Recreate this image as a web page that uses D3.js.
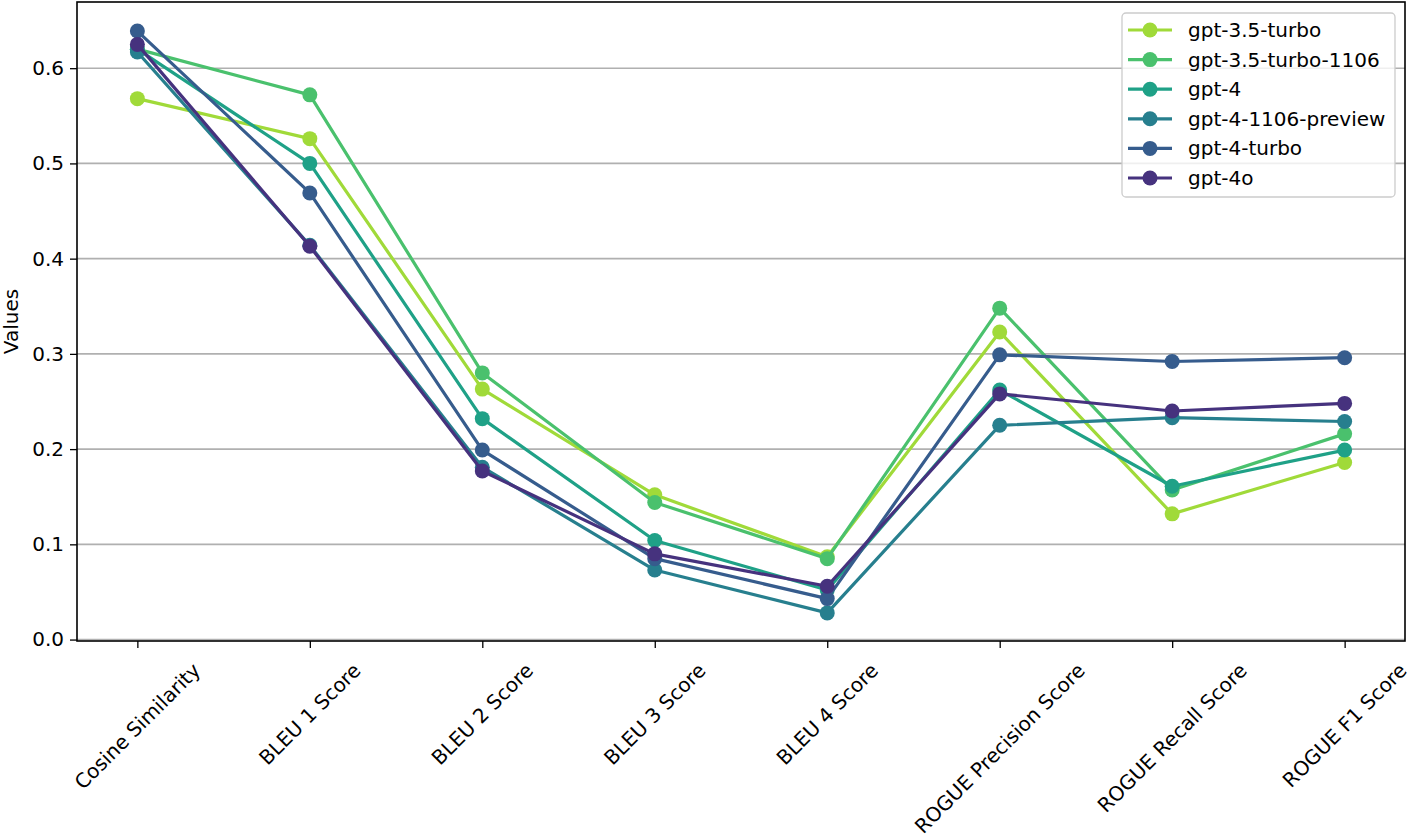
<!DOCTYPE html>
<html>
<head>
<meta charset="utf-8">
<script src="https://cdn.jsdelivr.net/npm/d3@7"></script>
<style>
  body { margin: 0; background: #fff; }
  text { font-family: "DejaVu Sans", sans-serif; }
</style>
</head>
<body>
<div id="chart"></div>
<script>
// metrics on the x axis
const metrics = [
  "Cosine Similarity", "BLEU 1 Score", "BLEU 2 Score", "BLEU 3 Score",
  "BLEU 4 Score", "ROGUE Precision Score", "ROGUE Recall Score", "ROGUE F1 Score"
];

const models = ["gpt-3.5-turbo", "gpt-3.5-turbo-1106", "gpt-4", "gpt-4-1106-preview", "gpt-4-turbo", "gpt-4o"];
const colors = ["#a0da39", "#4ac16d", "#1fa187", "#277f8e", "#365c8d", "#46327e"];

// values per model
const gpt35turbo     = [0.568, 0.526, 0.263, 0.152, 0.087, 0.323, 0.132, 0.186];
const gpt35turbo1106 = [0.620, 0.572, 0.280, 0.144, 0.085, 0.348, 0.157, 0.216];
const gpt4           = [0.620, 0.500, 0.232, 0.104, 0.052, 0.262, 0.161, 0.199];
const gpt41106       = [0.617, 0.414, 0.181, 0.073, 0.028, 0.225, 0.233, 0.229];
const gpt4turbo      = [0.639, 0.469, 0.199, 0.085, 0.043, 0.299, 0.292, 0.296];
const gpt4o          = [0.625, 0.413, 0.177, 0.090, 0.056, 0.258, 0.240, 0.248];
const seriesValues = [gpt35turbo, gpt35turbo1106, gpt4, gpt41106, gpt4turbo, gpt4o];

const yTicks = [0.0, 0.1, 0.2, 0.3, 0.4, 0.5, 0.6];

const W = 1417, H = 839;
const margin = { top: 2, right: 12, bottom: 198, left: 77 };
const width = W - margin.left - margin.right;
const height = H - margin.top - margin.bottom;
const fs = 20;

const svg = d3.select("#chart").append("svg")
  .attr("width", W).attr("height", H);

const g = svg.append("g").attr("transform", `translate(${margin.left},${margin.top})`);

const x = d3.scaleLinear().domain([-0.35, metrics.length - 1 + 0.35]).range([0, width]);
const y = d3.scaleLinear().domain([-0.0015, 0.6695]).range([height, 0]);

// grid
g.append("g").selectAll("line").data(yTicks).enter().append("line")
  .attr("x1", 0).attr("x2", width)
  .attr("y1", d => y(d)).attr("y2", d => y(d))
  .attr("stroke", "#b0b0b0").attr("stroke-width", 1.6);

// lines + markers
const line = d3.line().x((d, i) => x(i)).y(d => y(d));
seriesValues.forEach((vals, k) => {
  const s = g.append("g");
  s.append("path").datum(vals).attr("d", line)
    .attr("fill", "none").attr("stroke", colors[k]).attr("stroke-width", 3.2)
    .attr("stroke-linejoin", "round");
  s.selectAll("circle").data(vals).enter().append("circle")
    .attr("cx", (d, i) => x(i)).attr("cy", d => y(d)).attr("r", 7.5)
    .attr("fill", colors[k]);
});

// y axis
const yAxis = g.append("g")
  .call(d3.axisLeft(y).tickValues(yTicks).tickFormat(d3.format(".1f")).tickSize(7).tickPadding(6));
yAxis.select(".domain").remove();
yAxis.selectAll("line").attr("stroke", "#000").attr("stroke-width", 1.3);
yAxis.selectAll("text").attr("font-size", fs).attr("fill", "#000")
  .style("font-family", "DejaVu Sans");

// x axis
const xAxis = g.append("g").attr("transform", `translate(0,${height})`)
  .call(d3.axisBottom(x).tickValues(d3.range(metrics.length)).tickFormat("").tickSize(7));
xAxis.select(".domain").remove();
xAxis.selectAll("line").attr("stroke", "#000").attr("stroke-width", 1.3);

// rotated labels, bbox centred under tick like matplotlib
const labels = g.append("g");
metrics.forEach((m, i) => {
  const t = labels.append("text").text(m)
    .attr("font-size", fs).attr("fill", "#000")
    .attr("text-anchor", "middle").attr("dominant-baseline", "central");
  const w = t.node().getComputedTextLength();
  const hgt = fs * 1.1;
  const bh = (w + hgt) / Math.SQRT2;
  const cx = x(i), cy = height + 18 + bh / 2;
  t.attr("x", cx).attr("y", cy).attr("transform", `rotate(-45,${cx},${cy})`);
});

// frame
g.append("rect").attr("x", 0).attr("y", 0).attr("width", width).attr("height", height)
  .attr("fill", "none").attr("stroke", "#000").attr("stroke-width", 1.6);

// y label
svg.append("text").text("Values")
  .attr("transform", `translate(11,${margin.top + height / 2}) rotate(-90)`)
  .attr("text-anchor", "middle").attr("dominant-baseline", "central")
  .attr("font-size", fs).attr("fill", "#000");

// legend
const lg = svg.append("g").attr("transform", "translate(1122,13)");
lg.append("rect").attr("width", 273).attr("height", 184).attr("rx", 4)
  .attr("fill", "#fff").attr("fill-opacity", 0.8)
  .attr("stroke", "#cccccc").attr("stroke-width", 1.3);
models.forEach((m, k) => {
  const yy = 17 + k * 29.6;
  lg.append("line").attr("x1", 6).attr("x2", 50).attr("y1", yy).attr("y2", yy)
    .attr("stroke", colors[k]).attr("stroke-width", 3.2);
  lg.append("circle").attr("cx", 28).attr("cy", yy).attr("r", 7.5).attr("fill", colors[k]);
  lg.append("text").text(m).attr("x", 66).attr("y", yy)
    .attr("dominant-baseline", "central").attr("font-size", fs).attr("fill", "#000");
});
</script>
</body>
</html>
